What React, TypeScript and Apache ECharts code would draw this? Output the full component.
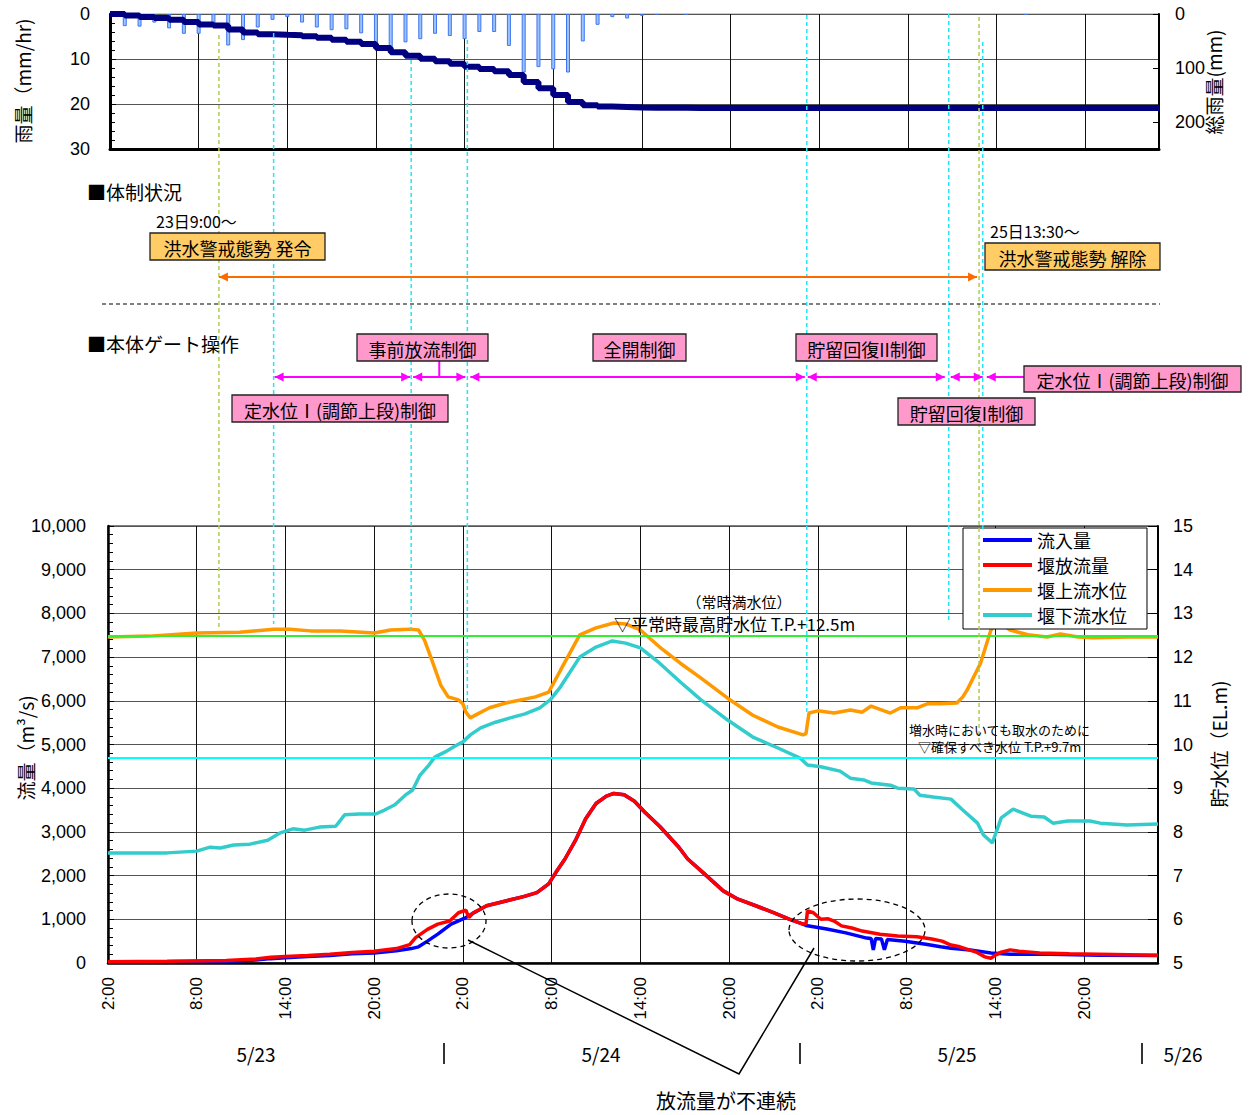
import React, { useEffect, useRef } from "react";
import * as echarts from "echarts";

// ================= DATA =================
// x = hours elapsed since 5/23 2:00
const X_MAX = 71;

// hourly rainfall (mm/hr)
const rainHours = [1, 2, 3, 4, 5, 6, 7, 8, 9, 10, 11, 12, 13, 14, 15, 16, 17, 18, 19, 20, 21, 22, 23, 24, 25, 26, 27, 28, 29, 30, 31, 32, 33, 34, 35, 36, 37, 39, 62];
const rainValues = [2.7, 2.8, 1.9, 3.2, 4.4, 4.4, 2.1, 7.0, 5.8, 3.0, 1.3, 0.7, 1.9, 3.0, 3.6, 3.4, 4.3, 7.5, 8.0, 6.3, 5.6, 4.4, 4.9, 5.6, 4.0, 4.0, 7.1, 13.0, 11.8, 12.3, 13.0, 6.1, 2.4, 0.7, 1.0, 0.4, 0.2, 0.2, 0.2];

// 流入量 (m3/s)
const inflow = [
  [0, 20], [4, 30], [8, 40], [10, 70], [11, 100], [12, 120], [13.5, 150], [15, 170], [16.5, 210], [18, 230],
  [19.5, 280], [20.5, 330], [21, 370], [21.6, 500], [22.3, 660], [23.2, 890], [24.2, 1040], [24.6, 1120],
  [25.6, 1310], [26.9, 1420], [28.1, 1520], [29, 1610], [29.8, 1810], [30.3, 2080], [30.9, 2380], [31.6, 2800],
  [32.3, 3300], [33, 3650], [33.7, 3820], [34.2, 3880], [34.9, 3850], [35.6, 3700], [36.3, 3450], [37.3, 3130],
  [38.6, 2650], [39.2, 2380], [40.2, 2080], [41.6, 1650], [42.6, 1460], [43.8, 1310], [45, 1150], [46.1, 1000],
  [47, 890], [47.2, 860], [48.6, 780], [49.9, 690], [51.3, 570], [51.6, 560], [51.75, 300], [51.9, 560],
  [52.3, 550], [52.5, 300], [52.7, 540], [53.9, 500], [55.3, 430], [56.3, 370], [57, 340], [58.3, 300],
  [59.7, 230], [61, 200], [63.7, 200], [67.1, 180], [71, 170],
];

// 堰放流量 (m3/s)
const outflow = [
  [0, 30], [4, 40], [8, 60], [10, 90], [11, 130], [12, 150], [13.5, 170], [15, 200], [16.5, 240], [18, 270],
  [19.5, 330], [20.4, 420], [20.8, 580], [21.6, 770], [22.3, 890], [23.1, 960], [23.7, 1150], [24.2, 1210],
  [24.4, 1040], [24.7, 1150], [25.6, 1310], [26.9, 1420], [28.1, 1520], [29, 1610], [29.8, 1810], [30.3, 2080],
  [30.9, 2380], [31.6, 2800], [32.3, 3300], [33, 3650], [33.7, 3820], [34.2, 3880], [34.9, 3850], [35.6, 3700],
  [36.3, 3450], [37.3, 3130], [38.6, 2650], [39.2, 2380], [40.2, 2080], [41.6, 1650], [42.6, 1460], [43.8, 1310],
  [45, 1150], [46.1, 1000], [47, 890], [47.2, 900], [47.3, 1190], [47.7, 1150], [48.2, 1000], [48.7, 1010],
  [49.1, 960], [49.6, 850], [50.3, 800], [51, 730], [52.2, 660], [53.4, 620], [54.7, 600], [55.7, 550],
  [56.4, 500], [57, 410], [57.6, 370], [58.7, 250], [59.3, 140], [59.7, 110], [60, 180], [60.4, 250],
  [61, 300], [61.6, 270], [63, 230], [65, 210], [67, 200], [71, 180],
];

// 堰上流水位 (EL.m)
const upstreamLevel = [
  [0, 12.46], [2.8, 12.48], [6, 12.55], [8.9, 12.57], [11.2, 12.64], [12.3, 12.64], [13.7, 12.6], [15.7, 12.6],
  [18, 12.55], [19.1, 12.62], [20.4, 12.64], [21, 12.62], [21.4, 12.39], [21.9, 11.93], [22.5, 11.36], [23, 11.09],
  [23.7, 11.02], [24, 10.93], [24.2, 10.74], [24.5, 10.61], [25, 10.7], [25.8, 10.84], [26.9, 10.95], [27.9, 11.02],
  [28.9, 11.09], [29.8, 11.2], [30.6, 11.7], [31.9, 12.51], [33, 12.67], [34.2, 12.78], [35, 12.76], [36, 12.62],
  [37.3, 12.23], [38.7, 11.86], [40.1, 11.52], [41.9, 11.06], [43.6, 10.67], [45.3, 10.4], [47, 10.22], [47.2, 10.25],
  [47.4, 10.72], [48, 10.77], [49.1, 10.72], [50.2, 10.79], [51, 10.74], [51.6, 10.88], [52.9, 10.72], [53.6, 10.84],
  [54.7, 10.84], [55.4, 10.93], [56.3, 10.93], [57.4, 10.95], [57.8, 11.09], [58.1, 11.25], [59, 11.86], [59.7, 12.62],
  [60.2, 12.8], [61, 12.62], [62.2, 12.51], [63.5, 12.46], [64.4, 12.53], [65.6, 12.46], [66.6, 12.44], [69, 12.46],
  [71, 12.46],
];

// 堰下流水位 (EL.m)
const downstreamLevel = [
  [0, 7.52], [4, 7.52], [6, 7.56], [6.9, 7.65], [7.6, 7.63], [8.5, 7.7], [9.6, 7.72], [10.8, 7.81], [11.6, 7.97],
  [12.5, 8.07], [13.3, 8.04], [14.3, 8.11], [15.4, 8.13], [16, 8.39], [17, 8.41], [18.1, 8.41], [18.7, 8.5],
  [19.4, 8.62], [20.1, 8.84], [20.6, 8.96], [21.1, 9.3], [21.7, 9.53], [22.1, 9.71], [22.8, 9.83], [23.5, 9.97],
  [24, 10.06], [24.5, 10.22], [25.2, 10.38], [26.2, 10.51], [27.2, 10.61], [28.2, 10.7], [29.2, 10.84], [29.9, 11.02],
  [30.6, 11.32], [31.9, 12.0], [33, 12.23], [34.1, 12.37], [35, 12.32], [36, 12.21], [37.3, 11.86], [38.7, 11.43],
  [40.1, 11.02], [41.9, 10.56], [43.6, 10.17], [45.3, 9.92], [46.8, 9.69], [47.3, 9.53], [48.2, 9.49], [49.5, 9.39],
  [50.2, 9.23], [51.1, 9.19], [51.6, 9.12], [52.9, 9.07], [53.4, 9.0], [54.5, 8.98], [54.9, 8.84], [55.8, 8.8],
  [57, 8.75], [57.8, 8.5], [58.8, 8.2], [59.2, 7.93], [59.8, 7.75], [60.4, 8.32], [61.2, 8.52], [62.4, 8.36],
  [63.3, 8.34], [63.9, 8.2], [64.9, 8.25], [66.4, 8.25], [67.1, 8.2], [68.9, 8.16], [71, 8.18],
];

// reference water levels
const NORMAL_HIGH_LEVEL = 12.5;
const INTAKE_LEVEL = 9.7;

// event times (hours since 5/23 2:00) for the vertical dashed markers
const eventHours = [7.5, 11.2, 20.5, 24.3, 47.25, 56.85, 58.9, 59.15];
const eventKinds = ["alert", "gate", "gate", "gate", "gate", "gate", "alert", "gate"];

const dateLabels = ["5/23", "5/24", "5/25", "5/26"];
const legendNames = ["流入量", "堰放流量", "堰上流水位", "堰下流水位"];

// ================= STYLE / LAYOUT =================
const JP = '"Noto Sans CJK JP", "Noto Sans", sans-serif';
const NUM = '"Liberation Sans", Arial, sans-serif';
const ALERT_COLOR = "#b0cc50";
const GATE_COLOR = "#22e6f5";
const ORANGE_ARROW = "#ff6a00";
const MAGENTA = "#ff00ff";
const BOX_YELLOW = "#ffcc66";
const BOX_PINK = "#ff99cc";
// vertical extent (px) of each event marker line
const eventExtent = [[35, 627], [33, 624], [60, 630], [40, 712], [15, 713], [14, 623], [17, 747], [42, 530]];

const fmtHour = (v: number) => (v % 6 === 0 ? `${(2 + v) % 24}:00` : "");

function buildOption() {
  const cumData: number[][] = [];
  let acc = 0;
  for (let h = 0; h <= X_MAX; h++) {
    const i = rainHours.indexOf(h);
    if (i >= 0) acc += rainValues[i];
    cumData.push([h, Math.round(acc * 10) / 10]);
  }
  const lineSeries = (name: string, data: number[][], color: string, yAxisIndex: number, extra: any = {}) => ({
    name,
    type: "line",
    xAxisIndex: 1,
    yAxisIndex,
    data,
    showSymbol: false,
    symbol: "none",
    color,
    lineStyle: { color, width: 3.5 },
    emphasis: { disabled: true },
    ...extra,
  });
  return {
    animation: false,
    backgroundColor: "#fff",
    grid: [
      { left: 110, top: 14, width: 1049, height: 135, show: true, borderColor: "#999", borderWidth: 1, backgroundColor: "transparent" },
      { left: 108, top: 526, width: 1050, height: 437, show: true, borderColor: "#000", borderWidth: 1, backgroundColor: "transparent" },
    ],
    legend: {
      data: legendNames,
      orient: "vertical",
      left: 963,
      top: 528,
      icon: "rect",
      itemWidth: 49,
      itemHeight: 4,
      itemGap: 7,
      padding: [3, 20, 5, 20],
      backgroundColor: "#fff",
      borderColor: "#000",
      borderWidth: 1,
      selectedMode: false,
      textStyle: { fontSize: 18, fontFamily: JP, color: "#000", lineHeight: 18 },
    },
    xAxis: [
      {
        type: "value", gridIndex: 0, min: 0, max: X_MAX, interval: 6,
        axisLine: { onZero: false, lineStyle: { color: "#000", width: 3 } },
        axisTick: { show: false }, axisLabel: { show: false },
        splitLine: { show: true, lineStyle: { color: "#111", width: 1 } },
      },
      {
        type: "value", gridIndex: 1, min: 0, max: X_MAX, interval: 6,
        axisLine: { onZero: false, lineStyle: { color: "#000", width: 2.5 } },
        axisTick: { show: false },
        axisLabel: { rotate: 90, margin: 14, fontSize: 17, fontFamily: NUM, color: "#000", formatter: fmtHour },
        splitLine: { show: true, lineStyle: { color: "#111", width: 1 } },
      },
    ],
    yAxis: [
      {
        type: "value", gridIndex: 0, min: 0, max: 30, interval: 10, inverse: true, position: "left",
        axisLine: { show: true, onZero: false, lineStyle: { color: "#000", width: 3 } },
        axisTick: { show: true, inside: true, length: 6, lineStyle: { color: "#000" } },
        minorTick: { show: true, splitNumber: 5, length: 5, lineStyle: { color: "#000" } },
        axisLabel: { fontSize: 18, fontFamily: NUM, color: "#000", margin: 20 },
        splitLine: { show: true, lineStyle: { color: "#555", width: 1 } },
      },
      {
        type: "value", gridIndex: 0, min: 0, max: 250, interval: 100, inverse: true, position: "right",
        axisLine: { show: true, onZero: false, lineStyle: { color: "#000", width: 2 } },
        axisTick: { show: true, inside: true, length: 6, lineStyle: { color: "#000" } },
        axisLabel: { fontSize: 18, fontFamily: NUM, color: "#000", margin: 16, formatter: (v: number) => (v % 100 === 0 ? String(v) : "") },
        splitLine: { show: false },
      },
      {
        type: "value", gridIndex: 1, min: 0, max: 10000, interval: 1000, position: "left",
        axisLine: { show: true, onZero: false, lineStyle: { color: "#000", width: 2.5 } },
        axisTick: { show: true, inside: true, length: 6, lineStyle: { color: "#000" } },
        minorTick: { show: true, splitNumber: 5, length: 5, lineStyle: { color: "#000" } },
        axisLabel: { fontSize: 18, fontFamily: NUM, color: "#000", margin: 22, formatter: (v: number) => v.toLocaleString("en-US") },
        splitLine: { show: true, lineStyle: { color: "#555", width: 1 } },
      },
      {
        type: "value", gridIndex: 1, min: 5, max: 15, interval: 1, position: "right",
        axisLine: { show: true, onZero: false, lineStyle: { color: "#000", width: 2 } },
        axisTick: { show: true, inside: true, length: 10, lineStyle: { color: "#000" } },
        axisLabel: { fontSize: 18, fontFamily: NUM, color: "#000", margin: 15 },
        splitLine: { show: false },
      },
    ],
    series: [
      {
        name: "雨量", type: "bar", xAxisIndex: 0, yAxisIndex: 0,
        data: rainHours.map((h, i) => [h, rainValues[i]]),
        barWidth: 4,
        itemStyle: { color: "#9cc3ff", borderColor: "#3f76f0", borderWidth: 1 },
        emphasis: { disabled: true },
      },
      {
        name: "総雨量", type: "line", step: "end", xAxisIndex: 0, yAxisIndex: 1, data: cumData,
        showSymbol: false, symbol: "none", color: "#000080",
        lineStyle: { color: "#000080", width: 6 }, emphasis: { disabled: true },
      },
      lineSeries("流入量", inflow, "#0000ff", 2),
      lineSeries("堰放流量", outflow, "#ff0000", 2),
      lineSeries("堰上流水位", upstreamLevel, "#ff9900", 3),
      lineSeries("堰下流水位", downstreamLevel, "#33cccc", 3, {
        markLine: {
          silent: true, symbol: ["none", "none"], label: { show: false },
          data: [
            { yAxis: NORMAL_HIGH_LEVEL, lineStyle: { color: "#33ee33", width: 2, type: "solid" } },
            { yAxis: INTAKE_LEVEL, lineStyle: { color: "#00ffff", width: 2, type: "solid" } },
          ],
        },
      }),
    ],
  };
}

function buildGraphics(px: (h: number) => number) {
  const g: any[] = [];
  const Z = 20;
  const txt = (x: number, y: number, text: string, size: number, align = "left", extra: any = {}) => ({
    type: "text", x, y, z: Z + 2, silent: true, ...extra,
    style: {
      text, fill: "#000", font: `${size}px ${JP}`,
      align, verticalAlign: "middle", textAlign: align, textVerticalAlign: "middle",
    },
  });
  const line = (x1: number, y1: number, x2: number, y2: number, stroke: string, lineWidth: number, dash?: number[]) => ({
    type: "line", z: Z, silent: true,
    shape: { x1, y1, x2, y2 },
    style: { stroke, lineWidth, lineDash: dash || null },
  });
  const head = (x: number, y: number, dir: number, color: string) => ({
    type: "polygon", z: Z + 1, silent: true,
    shape: { points: [[x, y], [x - dir * 9, y - 4.5], [x - dir * 9, y + 4.5]] },
    style: { fill: color },
  });
  const box = (x: number, y: number, w: number, h: number, fill: string, text: string, size = 18) => {
    g.push({ type: "rect", z: Z + 1, silent: true, shape: { x, y, width: w, height: h }, style: { fill, stroke: "#222", lineWidth: 1.3 } });
    g.push(txt(x + w / 2, y + h / 2 + 1, text, size, "center"));
  };

  // event marker lines
  const ex = eventHours.map(px);
  ex.forEach((x, i) => {
    const [y1, y2] = eventExtent[i];
    g.push(line(x, y1, x, y2, eventKinds[i] === "alert" ? ALERT_COLOR : GATE_COLOR, 1.5, [4, 3]));
  });

  // axis names
  g.push(txt(22, 81, "雨量（mm/hr)", 19, "center", { rotation: Math.PI / 2 }));
  g.push(txt(1213, 82, "総雨量(mm)", 19, "center", { rotation: Math.PI / 2 }));
  g.push(txt(25, 748, "流量（m³/s)", 19, "center", { rotation: Math.PI / 2 }));
  g.push(txt(1218, 744, "貯水位（EL.m)", 19, "center", { rotation: Math.PI / 2 }));

  // section: 体制状況
  g.push(txt(87, 191, "■体制状況", 19));
  g.push(txt(156, 221, "23日9:00～", 16));
  box(150, 233, 175, 27, BOX_YELLOW, "洪水警戒態勢 発令", 18);
  g.push(txt(990, 231, "25日13:30～", 16));
  box(985, 243, 175, 27, BOX_YELLOW, "洪水警戒態勢 解除", 18);
  const ay = 277;
  g.push(line(ex[0], ay, ex[6] - 2, ay, ORANGE_ARROW, 2.2));
  g.push(head(ex[0], ay, -1, ORANGE_ARROW));
  g.push(head(ex[6] - 2, ay, 1, ORANGE_ARROW));

  // divider
  g.push(line(102, 304, 1160, 304, "#000", 1.2, [4, 3]));

  // section: 本体ゲート操作
  g.push(txt(87, 343, "■本体ゲート操作", 19));
  const gy = 377;
  const segs = [
    [ex[1] + 1, ex[2] - 1],
    [ex[2] + 2, ex[3] - 2],
    [ex[3] + 3, ex[4] - 2],
    [ex[4] + 1, ex[5] - 4],
    [ex[5] + 2, ex[7]],
  ];
  segs.forEach(([a, b]) => {
    g.push(line(a, gy, b, gy, MAGENTA, 2));
    g.push(head(a, gy, -1, MAGENTA));
    g.push(head(b, gy, 1, MAGENTA));
  });
  g.push(line(ex[7] + 4, gy, 1024, gy, MAGENTA, 2));
  g.push(head(ex[7] + 4, gy, -1, MAGENTA));
  const tickX = (ex[2] + ex[3]) / 2;
  g.push(line(tickX, 361, tickX, gy, MAGENTA, 2));

  box(357, 334, 131, 27, BOX_PINK, "事前放流制御");
  box(593, 334, 93, 27, BOX_PINK, "全開制御");
  box(796, 334, 141, 27, BOX_PINK, "貯留回復II制御");
  box(232, 395, 216, 27, BOX_PINK, "定水位Ⅰ(調節上段)制御");
  box(898, 398, 137, 27, BOX_PINK, "貯留回復I制御");
  box(1024, 366, 217, 26, BOX_PINK, "定水位Ⅰ(調節上段)制御");

  // annotations inside flow chart
  g.push(txt(739, 601, "（常時満水位）", 15, "center"));
  g.push(txt(614, 623, "▽平常時最高貯水位 T.P.+12.5m", 17));
  g.push(txt(909, 729, "増水時においても取水のために", 13));
  g.push(txt(918, 746, "▽確保すべき水位 T.P.+9.7m", 13));

  // discontinuity callouts
  const ell = (cx: number, cy: number, rx: number, ry: number) => ({
    type: "ellipse", z: Z, silent: true, shape: { cx, cy, rx, ry },
    style: { fill: "none", stroke: "#000", lineWidth: 1.3, lineDash: [5, 4] },
  });
  g.push(ell(449, 921, 37, 27));
  g.push(ell(857, 930, 68, 31));
  g.push({
    type: "polyline", z: Z, silent: true,
    shape: { points: [[468, 940], [739, 1074], [814, 948]] },
    style: { stroke: "#000", lineWidth: 1.5, fill: null },
  });
  g.push(txt(726, 1100, "放流量が不連続", 20, "center"));

  // date row
  const dateX = [256, 601, 957, 1183];
  dateLabels.forEach((d, i) => g.push(txt(dateX[i], 1053, d, 19, "center")));
  [444, 800, 1142].forEach((x) => g.push(line(x, 1043, x, 1064, "#000", 1.6)));

  return g;
}

export default function App() {
  const ref = useRef<HTMLDivElement>(null);
  useEffect(() => {
    if (!ref.current) return;
    const chart = echarts.init(ref.current, null, { renderer: "svg" });
    chart.setOption(buildOption() as any);
    const px = (h: number) => chart.convertToPixel({ xAxisIndex: 1 } as any, h) as unknown as number;
    chart.setOption({ graphic: buildGraphics(px) } as any);
    return () => chart.dispose();
  }, []);
  return (
    <div
      ref={ref}
      style={{ position: "fixed", left: 0, top: 0, width: 1253, height: 1115, background: "#fff" }}
    />
  );
}
